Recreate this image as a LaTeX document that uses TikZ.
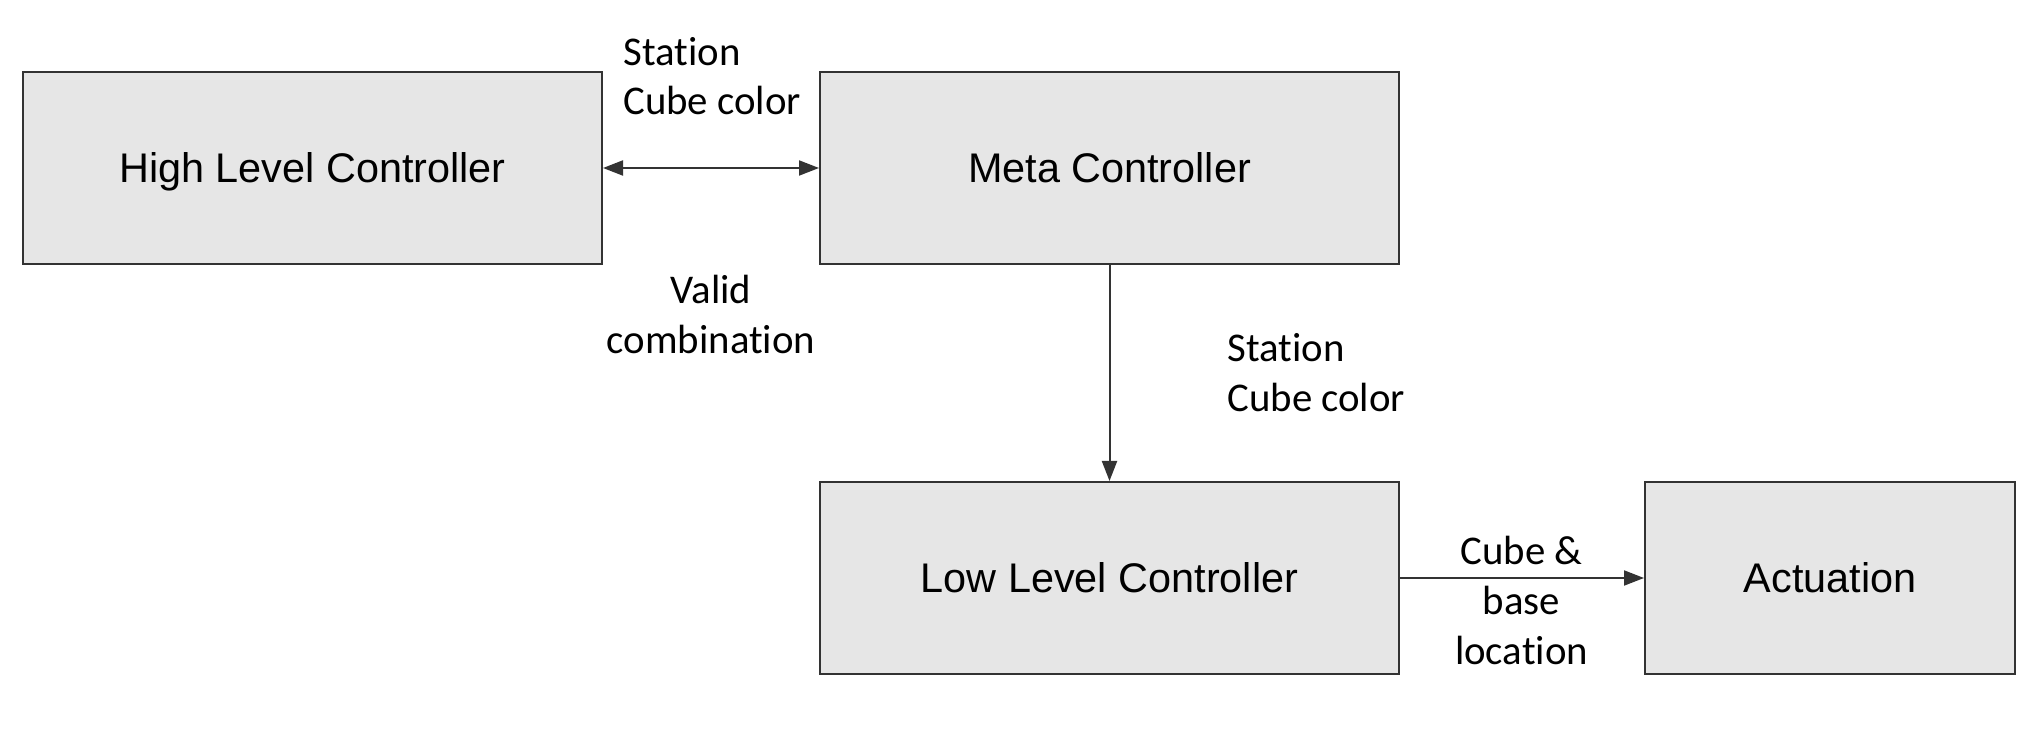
\documentclass[tikz,border=0pt]{standalone}
\usepackage{fontspec}
\setmainfont{Liberation Sans}
\newfontfamily\lblfont[Ligatures=NoCommon]{Carlito}
\usetikzlibrary{arrows.meta}
\definecolor{boxfill}{HTML}{E6E6E6}
\definecolor{linegray}{HTML}{333333}
\tikzset{
  block/.style={draw=linegray, fill=boxfill, line width=1pt, inner sep=0pt,
    font=\fontsize{20.7}{24}\selectfont, text=black, text height=14.75pt, text depth=0pt},
  conn/.style={draw=linegray, line width=1pt, -{Triangle[length=10pt,width=7.5pt]}},
  lbl/.style={inner sep=0pt, font=\lblfont\fontsize{20.4}{24.8}\selectfont, text=black}
}
\begin{document}
\begin{tikzpicture}[x=0.5pt,y=-0.5pt]
\useasboundingbox (0,0) rectangle (2044,742);
\node[block, minimum width=289.5pt, minimum height=96pt] (hlc) at (312.5,168) {High Level Controller};
\node[block, minimum width=289.5pt, minimum height=96pt] (meta) at (1109.5,168) {Meta Controller};
\node[block, minimum width=289.5pt, minimum height=96pt] (llc) at (1109.5,578) {Low Level Controller};
\node[block, minimum width=185pt, minimum height=96pt] (act) at (1830,578) {Actuation};
\draw[conn, {Triangle[length=10pt,width=7.5pt]}-{Triangle[length=10pt,width=7.5pt]}] (hlc.east) -- (meta.west);
\draw[conn] (meta.south) -- (llc.north);
\draw[conn] (llc.east) -- (act.west);
\node[lbl, anchor=base west, align=left] (l1) at (623,115) {Station\\Cube color};
\node[lbl, anchor=base, align=center] (l2) at (711,353.5) {Valid\\combination};
\node[lbl, anchor=base west, align=left] (l3) at (1227,411.5) {Station\\Cube color};
\node[lbl, anchor=base, align=center] (l4) at (1521.5,664) {Cube \&\\base\\location};
\end{tikzpicture}
\end{document}
